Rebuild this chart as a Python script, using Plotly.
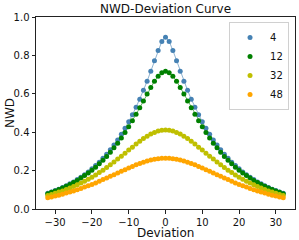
import plotly.graph_objects as go

deviation = list(range(-32, 33))

# NWD values, deviation 0..32 (curves are symmetric about 0)
half_4 = [0.895, 0.873, 0.826, 0.772, 0.718, 0.666, 0.618, 0.572, 0.530, 0.491,
          0.454, 0.420, 0.389, 0.360, 0.333, 0.308, 0.285, 0.264, 0.244, 0.226,
          0.209, 0.193, 0.179, 0.165, 0.153, 0.141, 0.131, 0.121, 0.112, 0.103,
          0.096, 0.089, 0.082]
half_12 = [0.717, 0.710, 0.692, 0.666, 0.633, 0.599, 0.563, 0.527, 0.493, 0.459,
           0.428, 0.398, 0.370, 0.343, 0.319, 0.296, 0.274, 0.254, 0.236, 0.218,
           0.202, 0.188, 0.174, 0.161, 0.149, 0.138, 0.128, 0.118, 0.109, 0.101,
           0.094, 0.087, 0.080]
half_32 = [0.412, 0.410, 0.406, 0.399, 0.390, 0.379, 0.367, 0.353, 0.338, 0.322,
           0.307, 0.291, 0.275, 0.260, 0.245, 0.230, 0.216, 0.202, 0.190, 0.177,
           0.166, 0.155, 0.145, 0.135, 0.126, 0.117, 0.109, 0.101, 0.094, 0.088,
           0.082, 0.076, 0.070]
half_48 = [0.264, 0.264, 0.262, 0.259, 0.255, 0.250, 0.244, 0.237, 0.230, 0.222,
           0.214, 0.205, 0.196, 0.187, 0.179, 0.170, 0.161, 0.153, 0.144, 0.136,
           0.128, 0.121, 0.114, 0.107, 0.100, 0.094, 0.088, 0.083, 0.077, 0.072,
           0.068, 0.063, 0.059]

series_names = ["4", "12", "32", "48"]
series_halves = [half_4, half_12, half_32, half_48]
colors = ["#4682b4", "#008000", "#bfbf00", "#ffa500"]

x_ticks = [-30, -20, -10, 0, 10, 20, 30]
y_ticks = [0.0, 0.2, 0.4, 0.6, 0.8, 1.0]

W, H = 299, 240
L, R, T, B = 36, 4, 17, 31

fig = go.Figure()
for name, half, color in zip(series_names, series_halves, colors):
    full = half[:0:-1] + half
    fig.add_trace(go.Scatter(x=deviation, y=full, mode="lines",
                             line=dict(color=color, width=1), opacity=0.6,
                             showlegend=False, hoverinfo="skip"))
for name, half, color in zip(series_names, series_halves, colors):
    full = half[:0:-1] + half
    fig.add_trace(go.Scatter(x=deviation, y=full, mode="markers", name=name,
                             marker=dict(color=color, size=5)))

font = "DejaVu Sans"
axis_common = dict(showline=True, linecolor="#222", linewidth=1, mirror=True,
                   ticks="outside", ticklen=3.5, tickwidth=1, tickcolor="#222",
                   showgrid=False, zeroline=False, automargin=False,
                   tickfont=dict(family=font, size=10, color="#111"))

plot_w = W - L - R
plot_h = H - T - B

fig.update_layout(
    width=W, height=H,
    margin=dict(l=L, r=R, t=T, b=B, autoexpand=False),
    paper_bgcolor="white", plot_bgcolor="white",
    title=dict(text="NWD-Deviation Curve", x=(L + W - R) / 2 / W, xanchor="center",
               y=1 - 8.5 / H, yanchor="middle",
               font=dict(family=font, size=12, color="#111")),
    xaxis=dict(range=[-35.2, 35.2], tickvals=x_ticks, **axis_common),
    yaxis=dict(range=[0, 1], tickvals=y_ticks, tickformat=".1f", **axis_common),
    legend=dict(x=0.977, xanchor="right", y=0.974, yanchor="top",
                bgcolor="white", bordercolor="#d0d0d0", borderwidth=1,
                font=dict(family=font, size=10, color="#111"),
                itemwidth=30, tracegroupgap=0),
    showlegend=True,
    annotations=[
        dict(text="Deviation", xref="paper", yref="paper",
             x=0.5, y=-(233 - (H - B)) / plot_h, xanchor="center", yanchor="middle",
             showarrow=False, font=dict(family=font, size=12, color="#111")),
        dict(text="NWD", xref="paper", yref="paper",
             x=-(L - 10) / plot_w, y=0.5, xanchor="center", yanchor="middle",
             textangle=-90, showarrow=False,
             font=dict(family=font, size=12, color="#111")),
    ],
)

fig.write_html("out.html", config={"displayModeBar": False},
               post_script="document.body.style.margin='0';document.body.style.padding='0';")
